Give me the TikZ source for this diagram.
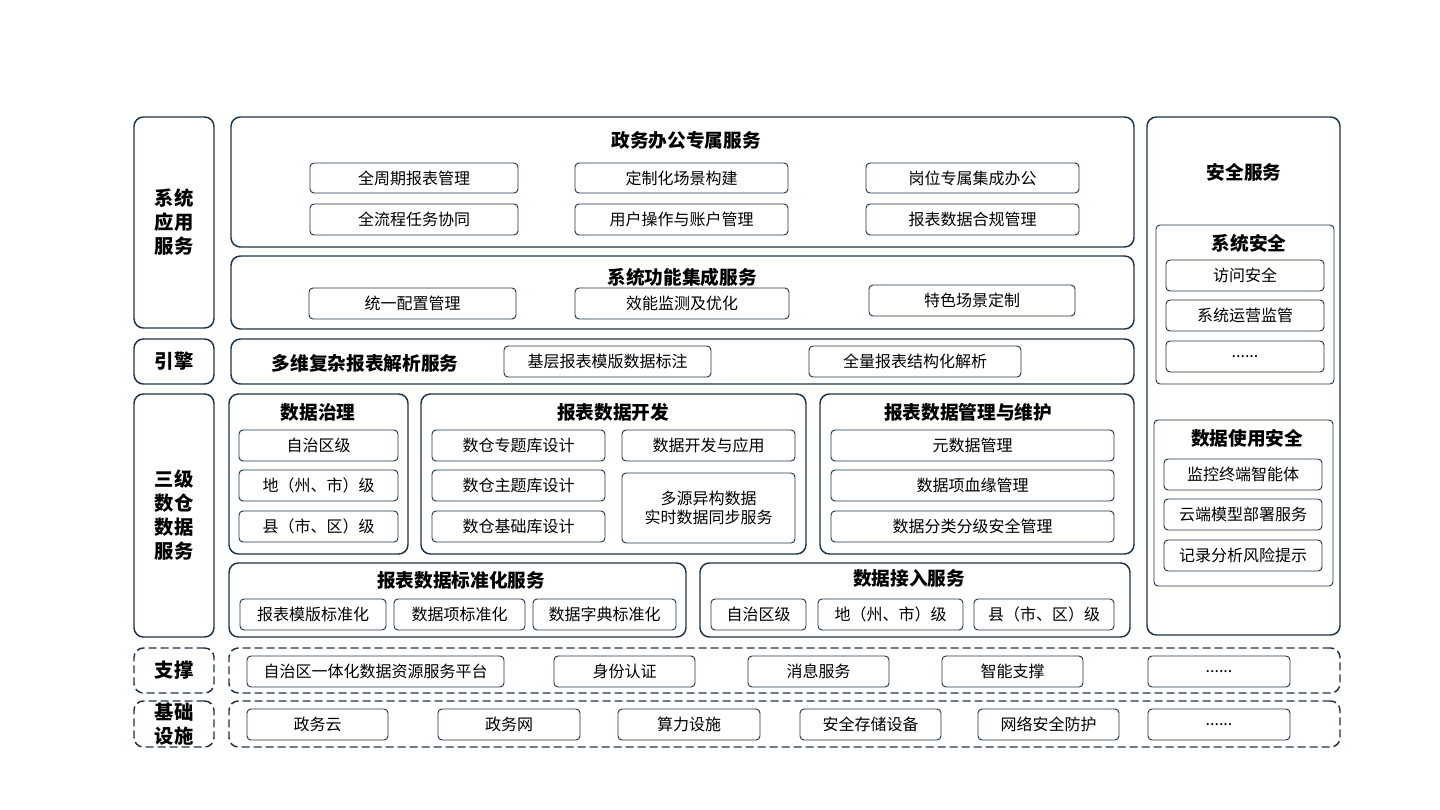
\documentclass[tikz,border=0pt]{standalone}
\usepackage{fontspec}
\setmainfont{Noto Sans CJK SC}
\begin{document}
\definecolor{bd}{HTML}{1E3346}
\newcommand\bx[7]{\node[#1,minimum width={(#4-#3)*0.75pt},minimum height={(#6-#5)*0.75pt}] (#2) at ({(#3+#4)/2},{(#5+#6)/2}) {#7};}
\begin{tikzpicture}[x=0.75pt,y=-0.75pt,
 big/.style={draw=bd,line width=1.1pt,rounded corners=7pt,inner sep=0pt},
 dbig/.style={big,dashed,dash pattern=on 6pt off 3pt},
 itm/.style={draw=bd,line width=0.7pt,rounded corners=3pt,inner sep=0pt,font=\fontsize{12}{14}\selectfont,align=center},
 lab/.style={font=\fontsize{14.5}{18}\selectfont\bfseries,align=center},
 ttl/.style={font=\fontsize{14}{16}\selectfont\bfseries}]
\useasboundingbox (0,0) rectangle (1440,810);
% left column
\bx{big,lab}{L1}{134}{214}{117}{328}{系统\\应用\\服务}
\bx{big,lab}{L2}{134}{214}{339}{384}{引擎}
\bx{big,lab}{L3}{134}{214}{394}{637}{三级\\数仓\\数据\\服务}
\bx{dbig,lab}{L4}{134}{214}{648}{693}{支撑}
\bx{dbig,lab}{L5}{134}{214}{701}{747}{基础\\设施}
% 政务办公
\bx{big}{A}{231}{1134}{117}{247}{}
\node[ttl] (At) at (686,140) {政务办公专属服务};
\bx{itm}{A1}{310}{518}{163}{193}{全周期报表管理}
\bx{itm}{A2}{575}{788}{163}{193}{定制化场景构建}
\bx{itm}{A3}{866}{1079}{163}{193}{岗位专属集成办公}
\bx{itm}{A4}{310}{518}{204}{235}{全流程任务协同}
\bx{itm}{A5}{575}{788}{204}{235}{用户操作与账户管理}
\bx{itm}{A6}{866}{1079}{204}{235}{报表数据合规管理}
% 系统功能集成
\bx{big}{B}{231}{1134}{256}{329}{}
\node[ttl] (Bt) at (682,277) {系统功能集成服务};
\bx{itm}{B1}{309}{516}{288}{319}{统一配置管理}
\bx{itm}{B2}{575}{789}{288}{319}{效能监测及优化}
\bx{itm}{B3}{869}{1075}{285}{316}{特色场景定制}
% 引擎
\bx{big}{C}{231}{1134}{339}{384}{}
\node[ttl] (Ct) at (365,363) {多维复杂报表解析服务};
\bx{itm}{C1}{504}{711}{346}{377}{基层报表模版数据标注}
\bx{itm}{C2}{809}{1021}{346}{377}{全量报表结构化解析}
% 数据治理
\bx{big}{D}{229}{408}{394}{554}{}
\node[ttl] (Dt) at (318,412) {数据治理};
\bx{itm}{D1}{239}{398}{430}{461}{自治区级}
\bx{itm}{D2}{239}{398}{470}{501}{地（州、市）级}
\bx{itm}{D3}{239}{398}{511}{542}{县（市、区）级}
% 报表数据开发
\bx{big}{E}{421}{806}{394}{554}{}
\node[ttl] (Et) at (613,412) {报表数据开发};
\bx{itm}{E1}{432}{605}{430}{461}{数仓专题库设计}
\bx{itm}{E2}{432}{605}{470}{501}{数仓主题库设计}
\bx{itm}{E3}{432}{605}{511}{542}{数仓基础库设计}
\bx{itm}{E4}{622}{795}{430}{461}{数据开发与应用}
\bx{itm}{E5}{622}{795}{473}{543}{多源异构数据\\实时数据同步服务}
% 管理与维护
\bx{big}{F}{820}{1134}{394}{554}{}
\node[ttl] (Ft) at (968,412) {报表数据管理与维护};
\bx{itm}{F1}{831}{1114}{430}{461}{元数据管理}
\bx{itm}{F2}{831}{1114}{470}{501}{数据项血缘管理}
\bx{itm}{F3}{831}{1114}{511}{542}{数据分类分级安全管理}
% 标准化
\bx{big}{G}{229}{686}{563}{637}{}
\node[ttl] (Gt) at (461,580) {报表数据标准化服务};
\bx{itm}{G1}{240}{386}{599}{630}{报表模版标准化}
\bx{itm}{G2}{394}{525}{599}{630}{数据项标准化}
\bx{itm}{G3}{533}{676}{599}{630}{数据字典标准化}
% 接入
\bx{big}{H}{700}{1130}{563}{637}{}
\node[ttl] (Ht) at (909,578) {数据接入服务};
\bx{itm}{H1}{711}{806}{599}{630}{自治区级}
\bx{itm}{H2}{818}{963}{599}{630}{地（州、市）级}
\bx{itm}{H3}{974}{1114}{599}{630}{县（市、区）级}
% 安全
\bx{big}{S}{1147}{1340}{117}{635}{}
\node[ttl] (St) at (1244,172) {安全服务};
\bx{itm}{S0}{1156}{1334}{225}{384}{}
\node[ttl] (S0t) at (1249,243) {系统安全};
\bx{itm}{S1}{1166}{1324}{260}{291}{访问安全}
\bx{itm}{S2}{1166}{1324}{300}{331}{系统运营监管}
\bx{itm}{S3}{1166}{1324}{341}{372}{......}
\bx{itm}{T0}{1154}{1333}{420}{586}{}
\node[ttl] (T0t) at (1247,438) {数据使用安全};
\bx{itm}{T1}{1164}{1322}{459}{490}{监控终端智能体}
\bx{itm}{T2}{1164}{1322}{499}{530}{云端模型部署服务}
\bx{itm}{T3}{1164}{1322}{540}{571}{记录分析风险提示}
% 支撑
\bx{dbig}{U}{229}{1340}{648}{693}{}
\bx{itm}{U1}{247}{504}{656}{687}{自治区一体化数据资源服务平台}
\bx{itm}{U2}{554}{695}{656}{687}{身份认证}
\bx{itm}{U3}{748}{889}{656}{687}{消息服务}
\bx{itm}{U4}{942}{1083}{656}{687}{智能支撑}
\bx{itm}{U5}{1148}{1290}{656}{687}{......}
% 基础设施
\bx{dbig}{V}{229}{1340}{701}{747}{}
\bx{itm}{V1}{247}{388}{709}{740}{政务云}
\bx{itm}{V2}{438}{580}{709}{740}{政务网}
\bx{itm}{V3}{618}{760}{709}{740}{算力设施}
\bx{itm}{V4}{800}{941}{709}{740}{安全存储设备}
\bx{itm}{V5}{978}{1119}{709}{740}{网络安全防护}
\bx{itm}{V6}{1148}{1290}{709}{740}{......}
\end{tikzpicture}
\end{document}
